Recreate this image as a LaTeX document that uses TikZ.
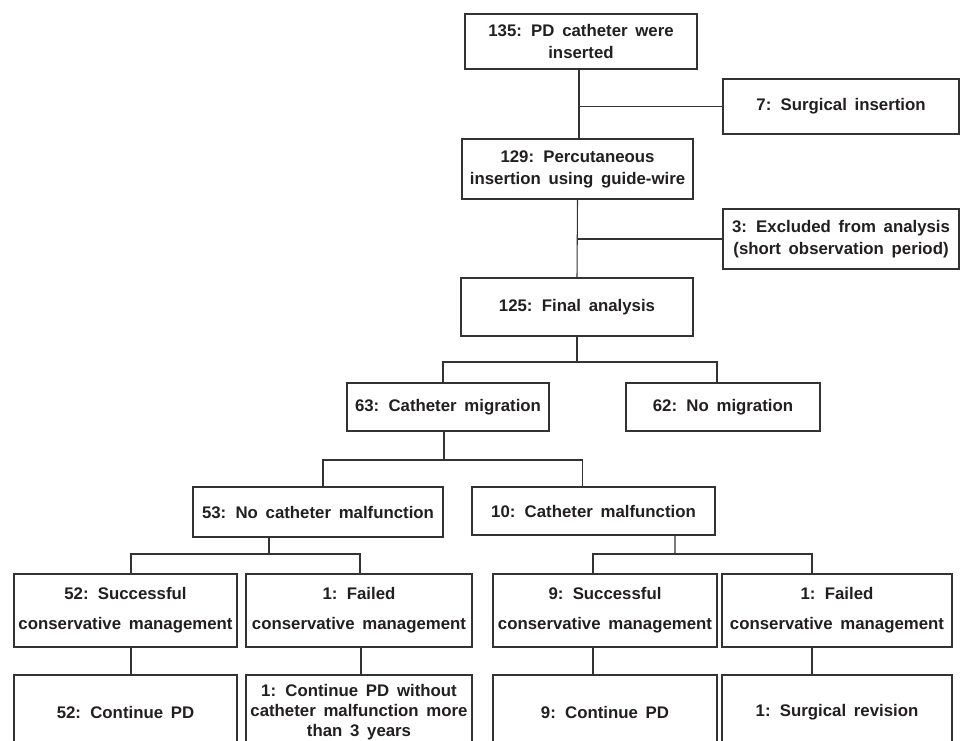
\documentclass[tikz,border=0pt]{standalone}
\usepackage{fontspec}
\setmainfont{Liberation Sans}
\usetikzlibrary{calc}
\definecolor{boxc}{HTML}{333333}
\definecolor{txtc}{HTML}{231F20}
\protected\def\widewordspace{\spaceskip=0.46em plus 0.1em\relax}
\tikzset{
  box/.style={draw=boxc, line width=1.1pt, inner sep=0pt, align=center, text=txtc,
    font=\fontsize{12.6}{16.5}\selectfont\bfseries\widewordspace},
  conn/.style={draw=boxc, line width=0.8pt}
}
\begin{document}
\begin{tikzpicture}[x=0.75pt,y=-0.75pt]
\useasboundingbox (0,0) rectangle (960,740);
\clip (0,0) rectangle (960,740);
\fill[white] (0,0) rectangle (960,740);
% boxes
\node[box, minimum width=174pt, minimum height=41.25pt] (b135) at (581,41.5) {135: PD catheter were\\inserted};
\node[box, minimum width=177pt, minimum height=41.25pt] (b7) at (841,106.5) {7: Surgical insertion};
\node[box, minimum width=173.25pt, minimum height=45pt] (b129) at (577.5,169) {129: Percutaneous\\insertion using guide-wire};
\node[box, minimum width=177pt, minimum height=45pt] (b3) at (841,239) {3: Excluded from analysis\\(short observation period)};
\node[box, minimum width=174pt, minimum height=43.5pt] (b125) at (577,307) {125: Final analysis};
\node[box, minimum width=151.5pt, minimum height=36pt] (b63) at (448,407) {63: Catheter migration};
\node[box, minimum width=145.5pt, minimum height=36pt] (b62) at (723,407) {62: No migration};
\node[box, minimum width=187.5pt, minimum height=37.5pt] (b53) at (318,512) {53: No catheter malfunction};
\node[box, minimum width=182.25pt, minimum height=36pt] (b10) at (593.5,511) {10: Catheter malfunction};
\node[box, minimum width=167.25pt, minimum height=54.75pt] (b52s) at (125.5,610.5) {52: Successful\\[6pt]conservative management};
\node[box, minimum width=169.5pt, minimum height=54.75pt] (b1f) at (359,610.5) {1: Failed\\[6pt]conservative management};
\node[box, minimum width=168pt, minimum height=54.75pt] (b9s) at (605,610.5) {9: Successful\\[6pt]conservative management};
\node[box, minimum width=172.5pt, minimum height=54.75pt] (b1g) at (837,610.5) {1: Failed\\[6pt]conservative management};
\node[box, minimum width=167.25pt, minimum height=55.5pt] (b52c) at (125.5,712) {52: Continue PD};
\node[box, minimum width=169.5pt, minimum height=55.5pt] (b1c) at (359,712) {1: Continue PD without\\[-1.5pt]catheter malfunction more\\[-1.5pt]than 3 years};
\node[box, minimum width=168pt, minimum height=55.5pt] (b9c) at (605,712) {9: Continue PD};
\node[box, minimum width=172.5pt, minimum height=55.5pt] (b1r) at (837,712) {1: Surgical revision};
% connectors
\draw[conn] ([xshift=-1.5pt]b135.south) -- ([xshift=-1.5pt]b135.south |- b129.north);
\draw[conn] ([xshift=-1.5pt]b135.south |- b7.west) -- (b7.west);
\draw[conn] (b129.south) -- (b125.north);
\draw[conn] (b129.south |- b3.west) -- (b3.west);
\coordinate (j1) at (577,362);
\draw[conn] (b125.south) -- (j1);
\draw[conn] ([xshift=-3.75pt]b63.north) |- (j1) -| ([xshift=-4.5pt]b62.north);
\coordinate (j2) at (444,460);
\draw[conn] ([xshift=-3pt]b63.south) -- (j2);
\draw[conn] ([xshift=3.75pt]b53.north) |- (j2) -| ([xshift=-8.6pt]b10.north);
\coordinate (j3) at (269,554);
\draw[conn] ([xshift=-36.75pt]b53.south) -- (j3);
\draw[conn] ([xshift=4.1pt]b52s.north) |- (j3) -| ([xshift=0.75pt]b1f.north);
\coordinate (j4) at (675,554);
\draw[conn] ([xshift=61.1pt]b10.south) -- (j4);
\draw[conn] ([xshift=-9pt]b9s.north) |- (j4) -| ([xshift=-18.75pt]b1g.north);
\draw[conn] ([xshift=4.1pt]b52s.south) -- ([xshift=4.1pt]b52c.north);
\draw[conn] ([xshift=1.5pt]b1f.south) -- ([xshift=1.5pt]b1c.north);
\draw[conn] ([xshift=-9pt]b9s.south) -- ([xshift=-9pt]b9c.north);
\draw[conn] ([xshift=-18.75pt]b1g.south) -- ([xshift=-18.75pt]b1r.north);
\end{tikzpicture}
\end{document}
